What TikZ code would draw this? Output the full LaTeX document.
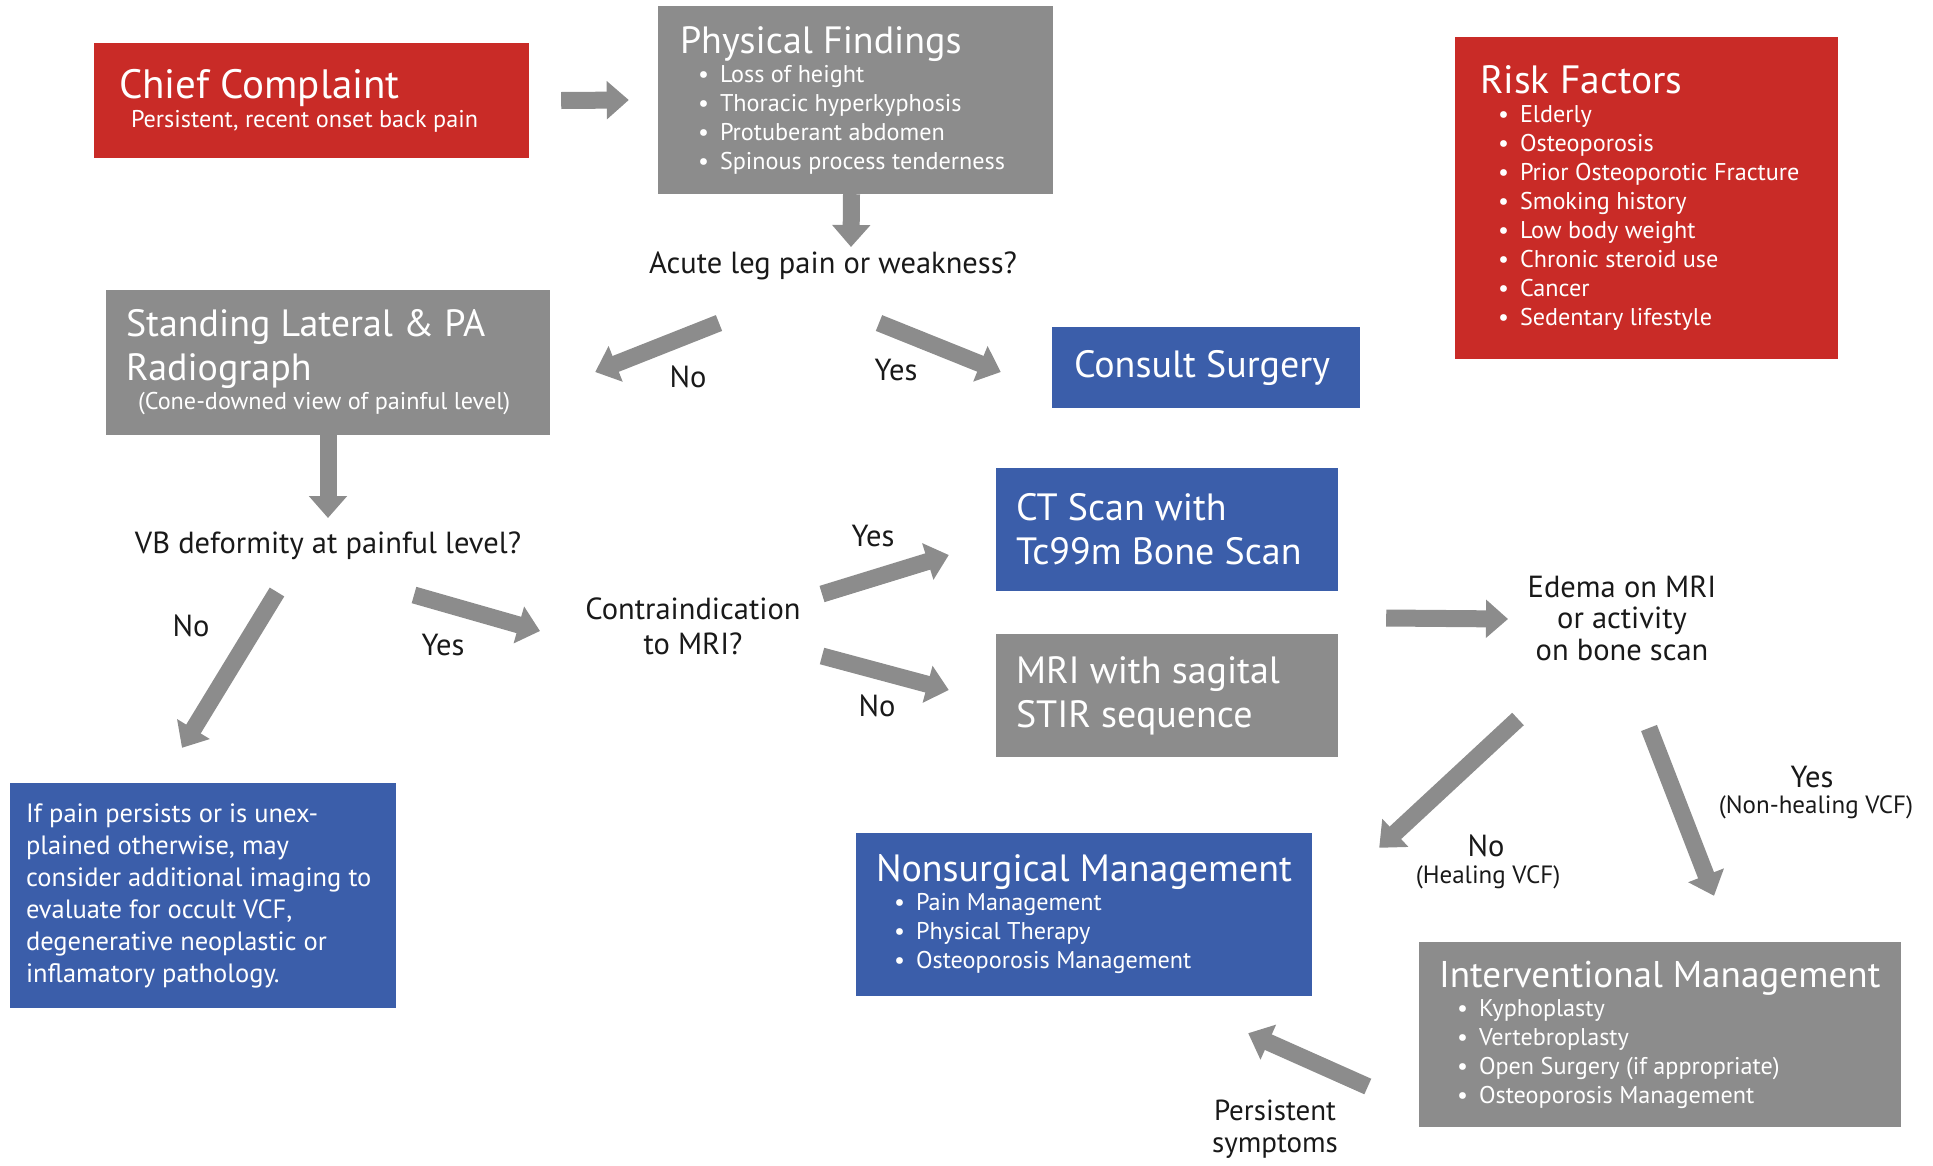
\documentclass[tikz,border=0pt]{standalone}
\usepackage{fontspec}
\setmainfont{PT Sans}
\usepackage{tikz}
\usetikzlibrary{arrows.meta,calc}

\definecolor{boxred}{RGB}{201,43,39}
\definecolor{boxgray}{RGB}{140,140,140}
\definecolor{boxblue}{RGB}{59,94,170}
\definecolor{ink}{RGB}{25,25,25}
\setlength{\parindent}{0pt}

% font sizes in pt (1pt = 1px of the picture)
\newcommand{\setsize}[2]{\fontsize{#1}{#2}\selectfont\spaceskip=0pt\xspaceskip=0pt\relax}
\newcommand{\titlefont}{\setsize{38}{44}}
\newcommand{\itemfont}{\setsize{24.2}{29}}
\newcommand{\bodyfont}{\setsize{26.5}{32}}
\newcommand{\askfont}{\setsize{30.5}{35}}
\newcommand{\notefont}{\setsize{25}{28}}
\newcommand{\bitem}[1]{\par\hspace*{18pt}\makebox[22pt][l]{\textbullet}#1}

\begin{document}
\begin{tikzpicture}[x=1pt,y=-1pt,
  box/.style={rectangle,text=white,align=left,inner ysep=0pt},
  redbox/.style={box,fill=boxred},
  graybox/.style={box,fill=boxgray},
  bluebox/.style={box,fill=boxblue},
  ask/.style={text=ink,align=center,font=\askfont,inner sep=1pt},
  note/.style={text=ink,align=center,font=\notefont,inner sep=1pt},
  bigarrow/.style={draw=boxgray,line width=17pt,-{Triangle[length=22pt,width=37pt]}}]
  \useasboundingbox (0,0) rectangle (1933,1165);

  % boxes
  \node[redbox,minimum height=115pt,text width=385pt,inner xsep=25pt] (chief) at (311.5,100.5)
    {{\setsize{41}{44}Chief Complaint\par}{\itemfont\hspace*{12pt}Persistent, recent onset back pain\par}};
  \node[graybox,minimum height=188pt,text width=351pt,inner xsep=22pt] (phys) at (855.5,100)
    {{\titlefont Physical Findings\par}{\itemfont
     \bitem{Loss of height}\bitem{Thoracic hyperkyphosis}\bitem{Protuberant abdomen}\bitem{Spinous process tenderness}\par}};
  \node[redbox,minimum height=322pt,text width=333pt,inner xsep=25pt] (risk) at (1646.5,198)
    {{\setsize{39.5}{44}Risk Factors\par}{\itemfont
     \bitem{Elderly}\bitem{Osteoporosis}\bitem{Prior Osteoporotic Fracture}\bitem{Smoking history}
     \bitem{Low body weight}\bitem{Chronic steroid use}\bitem{Cancer}\bitem{Sedentary lifestyle}\par}};
  \node[graybox,minimum height=145pt,text width=404pt,inner xsep=20pt] (stand) at (328,362.5)
    {{\titlefont Standing Lateral \& PA\\Radiograph\par}{\itemfont\hspace*{12pt}(Cone-downed view of painful level)\par}};
  \node[bluebox,minimum height=81pt,text width=264pt,inner xsep=22pt] (consult) at (1206,367.5)
    {{\titlefont Consult Surgery\par}};
  \node[bluebox,minimum height=123pt,text width=302pt,inner xsep=20pt] (ct) at (1167,529.5)
    {{\titlefont CT Scan with\\Tc99m Bone Scan\par}};
  \node[graybox,minimum height=123pt,text width=302pt,inner xsep=20pt] (mri) at (1167,695.5)
    {{\titlefont MRI with sagital\\STIR sequence\par}};
  \node[bluebox,minimum height=225pt,text width=354pt,inner xsep=16pt] (occult) at (203,895.5)
    {{\bodyfont If pain persists or is unex-\\plained otherwise, may\\consider additional imaging to\\
     evaluate for occult VCF,\\degenerative neoplastic or\\inflamatory pathology.\par}};
  \node[bluebox,minimum height=163pt,text width=416pt,inner xsep=20pt] (nonsurg) at (1084,914.5)
    {{\titlefont \mbox{Nonsurgical Management}\par}{\itemfont
     \bitem{Pain Management}\bitem{Physical Therapy}\bitem{Osteoporosis Management}\par}};
  \node[graybox,minimum height=185pt,text width=442pt,inner xsep=20pt] (interv) at (1660,1034.5)
    {{\setsize{37.2}{44}\mbox{Interventional Management}\par}{\itemfont
     \bitem{Kyphoplasty}\bitem{Vertebroplasty}\bitem{Open Surgery (if appropriate)}\bitem{Osteoporosis Management}\par}};

  % questions
  \node[ask] (acute) at (833,266) {Acute leg pain or weakness?};
  \node[ask] (vb) at (328,546) {VB deformity at painful level?};
  \node[ask] (contra) at (693,626) {Contraindication\\to MRI?};
  \node[ask,font=\setsize{30.5}{31.5}] (edema) at (1622,618) {Edema on MRI\\or activity\\on bone scan};

  % answers
  \node[ask] (no1) at (688,377) {No};
  \node[ask] (yes1) at (896,370) {Yes};
  \node[ask] (no2) at (191,626) {No};
  \node[ask] (yes2) at (443,645) {Yes};
  \node[ask] (yes3) at (873,536) {Yes};
  \node[ask] (no3) at (877,706) {No};
  \node[ask] (no4) at (1486,846) {No};
  \node[note] (heal) at (1488,877) {(Healing VCF)};
  \node[ask] (yes4) at (1812,777) {Yes};
  \node[note] (nonheal) at (1816,807) {(Non-healing VCF)};
  \node[ask,font=\setsize{29}{32}] (persist) at (1275,1129) {Persistent\\symptoms};

  % arrows
  \draw[bigarrow] ($(chief.east)+(32,0)$) -- ($(phys.west)+(-29,0)$);
  \draw[bigarrow] ($(phys.south)+(-4,0)$) -- ($(acute.center)+(18,-19)$);
  \draw[bigarrow] ($(acute.center)+(-114,57)$) -- ($(stand.east)+(45,9.5)$);
  \draw[bigarrow] ($(acute.center)+(46,57)$) -- ($(consult.west)+(-51,4.5)$);
  \draw[bigarrow] (stand.south) -- ($(vb.center)+(0,-28)$);
  \draw[bigarrow] ($(vb.center)+(-51,46)$) -- ($(occult.north)+(-21,-35)$);
  \draw[bigarrow] ($(vb.center)+(86,49)$) -- ($(contra.center)+(-153,5)$);
  \draw[bigarrow] ($(contra.center)+(129,-32)$) -- ($(ct.west)+(-47,25.5)$);
  \draw[bigarrow] ($(contra.center)+(129,30)$) -- ($(mri.west)+(-47,-5.5)$);
  \draw[bigarrow] ($(ct.east)!0.5!(mri.east)+(48,5.5)$) -- ($(edema.center)+(-114,1)$);
  \draw[bigarrow] ($(edema.center)+(-104,101)$) -- ($(nonsurg.north east)+(67,15)$);
  \draw[bigarrow] ($(edema.center)+(27,110)$) -- ($(interv.north)+(54,-46)$);
  \draw[bigarrow] ($(interv.west)+(-51,52)$) -- ($(nonsurg.south east)+(-64,37)$);
\end{tikzpicture}
\end{document}
